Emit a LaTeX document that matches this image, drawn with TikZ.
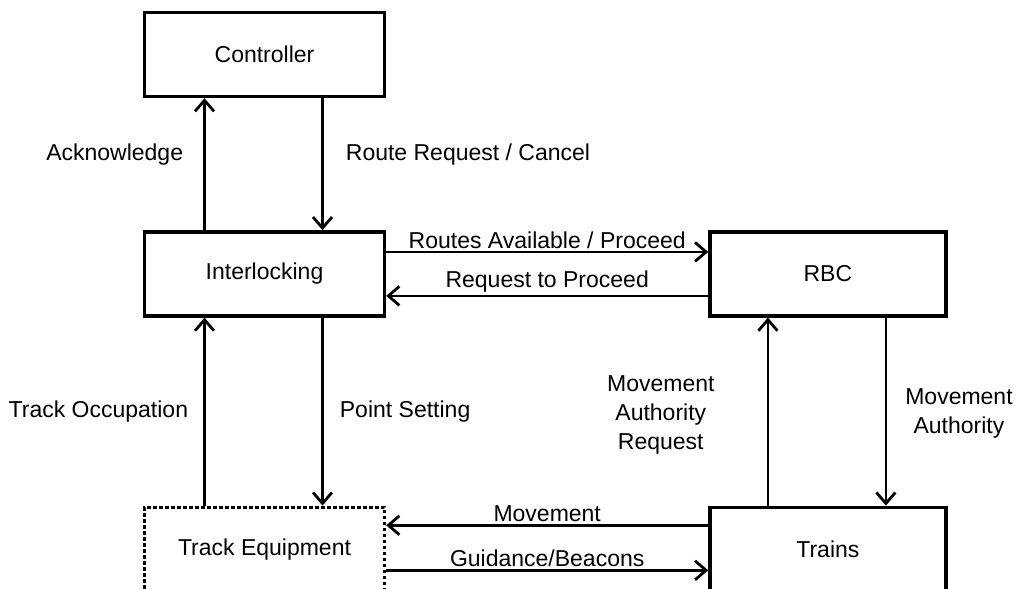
\documentclass[tikz,border=0pt]{standalone}
\usepackage{fontspec}
\setmainfont{Liberation Sans}
\usetikzlibrary{arrows.meta,positioning}

\begin{document}
\begin{tikzpicture}[x=1pt, y=-1pt,
    font=\fontsize{23}{29}\selectfont,
    box/.style={draw, line width=3.4pt, minimum width=240pt, minimum height=84pt, align=center},
    dotbox/.style={box, dash pattern=on 3.6pt off 2.4pt},
    arr/.style={->, line width=2.8pt, >={Straight Barb[length=11pt,width=19pt]}},
    lbl/.style={inner sep=2pt}
]
    \useasboundingbox (0,0) rectangle (1018,589);
    \clip (0,0) rectangle (1018,589);

    % Boxes
    \node[box] (controller) at (264.5,54.5) {Controller};
    \node[box, below=132pt of controller] (interlocking) {Interlocking};
    \node[box, minimum width=236pt, right=322pt of interlocking] (rbc) {RBC};
    \node[dotbox, below=188pt of interlocking] (trackeq) {Track Equipment};
    \node[box, minimum width=236pt, below=188pt of rbc] (trains) {Trains};

    % Controller <-> Interlocking
    \draw[arr] ([xshift=-60pt]interlocking.north) -- ([xshift=-60pt]controller.south)
        node[lbl, pos=0.57, left=18pt] {Acknowledge};
    \draw[arr] ([xshift=58pt]controller.south) -- ([xshift=58pt]interlocking.north)
        node[lbl, pos=0.43, right=20pt] {Route Request / Cancel};

    % Interlocking <-> RBC
    \draw[arr] ([yshift=22pt]interlocking.east) -- ([yshift=22pt]rbc.west)
        node[lbl, midway, above] {Routes Available / Proceed};
    \draw[arr] ([yshift=-22pt]rbc.west) -- ([yshift=-22pt]interlocking.east)
        node[lbl, midway, above] {Request to Proceed};

    % Interlocking <-> Track Equipment
    \draw[arr] ([xshift=-60pt]trackeq.north) -- ([xshift=-60pt]interlocking.south)
        node[lbl, midway, left=13pt] {Track Occupation};
    \draw[arr] ([xshift=58pt]interlocking.south) -- ([xshift=58pt]trackeq.north)
        node[lbl, midway, right=14pt] {Point Setting};

    % RBC <-> Trains
    \draw[arr] ([xshift=-60pt]trains.north) -- ([xshift=-60pt]rbc.south)
        node[lbl, midway, left=50pt, yshift=-3pt, align=center] {Movement\\Authority\\Request};
    \draw[arr] ([xshift=58pt]rbc.south) -- ([xshift=58pt]trains.north)
        node[lbl, midway, right=16pt, yshift=-2pt, align=center] {Movement\\Authority};

    % Trains <-> Track Equipment
    \draw[arr] ([yshift=24pt]trains.west) -- ([yshift=24pt]trackeq.east)
        node[lbl, midway, above] {Movement};
    \draw[arr] ([yshift=-21pt]trackeq.east) -- ([yshift=-21pt]trains.west)
        node[lbl, midway, above] {Guidance/Beacons};
\end{tikzpicture}
\end{document}
